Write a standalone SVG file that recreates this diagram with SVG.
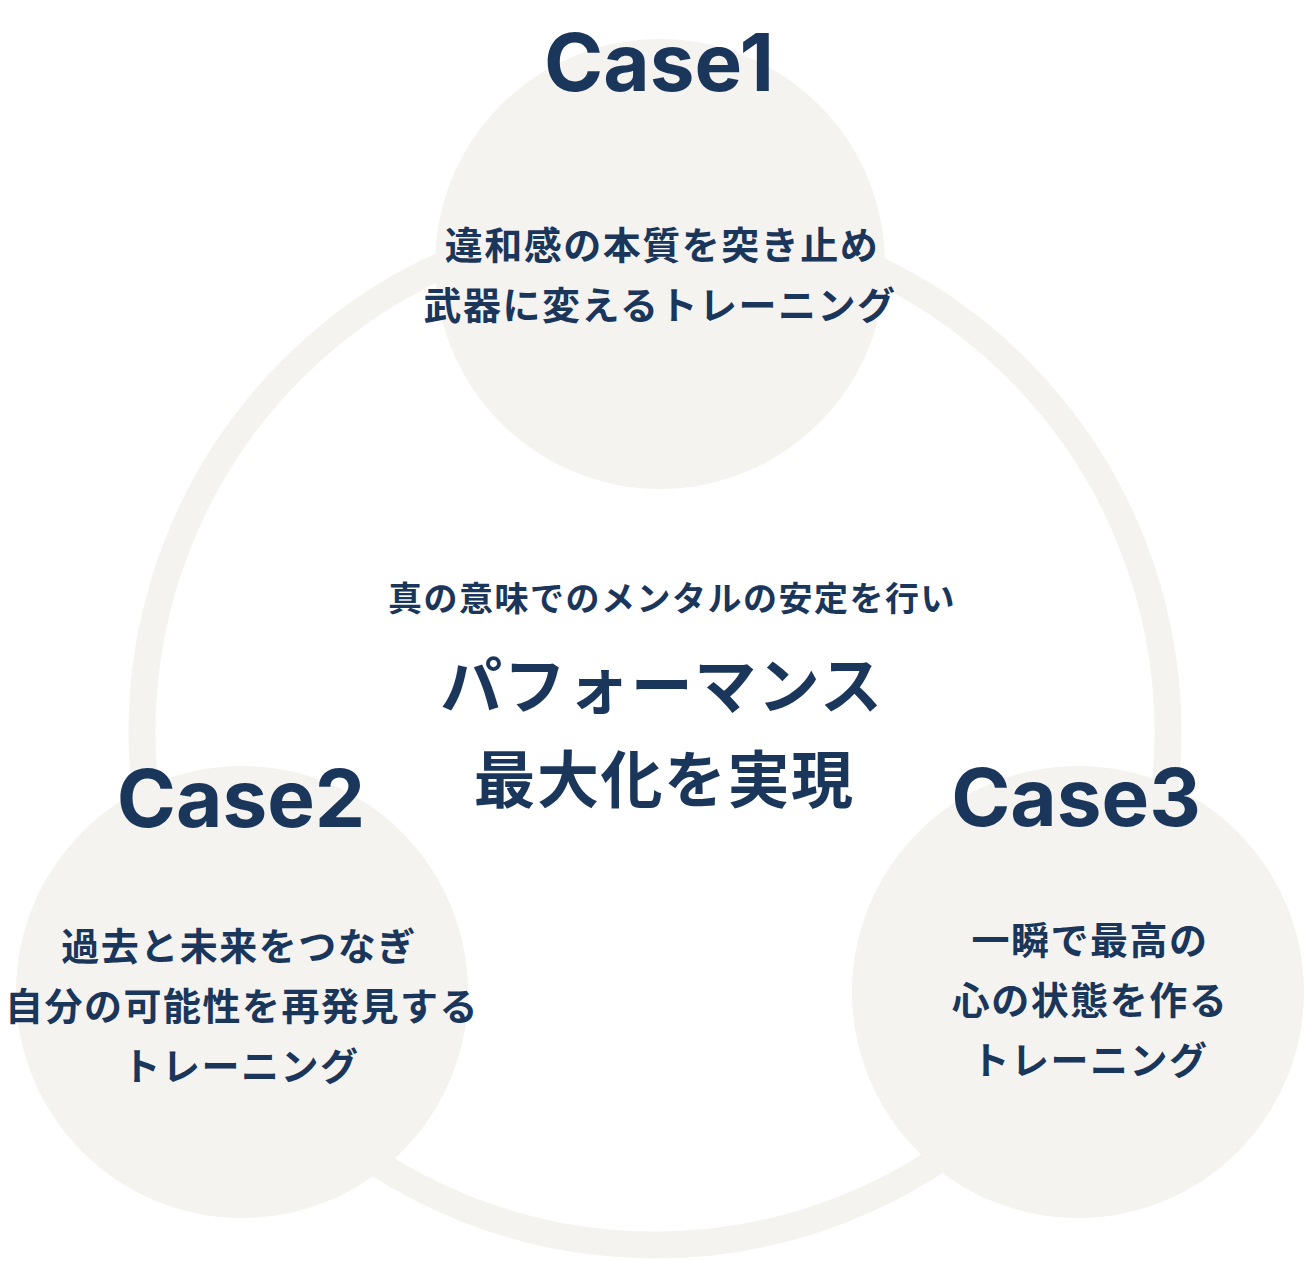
<svg xmlns="http://www.w3.org/2000/svg" width="1304" height="1262" viewBox="0 0 1304 1262">
<style>
.bg{fill:#f4f3f0}
.ring{fill:none;stroke:#f4f3f0;stroke-width:27}
.title{font-family:Inter,"Liberation Sans",sans-serif;font-weight:700;font-size:80px;fill:#1b365b;text-anchor:middle}
.body{font-family:"Noto Sans CJK JP",sans-serif;font-weight:700;font-size:38px;letter-spacing:1.5px;fill:#1b365b;text-anchor:middle}
.lead{font-family:"Noto Sans CJK JP",sans-serif;font-weight:700;font-size:34px;letter-spacing:1.5px;fill:#1b365b;text-anchor:middle}
.main{font-family:"Noto Sans CJK JP",sans-serif;font-weight:700;font-size:62px;letter-spacing:1.5px;fill:#1b365b;text-anchor:middle}
</style>
<rect width="1304" height="1262" fill="#ffffff"/>
<g id="connectors">
<circle class="ring" cx="655" cy="732" r="513"/>
</g>
<g id="case1">
<circle class="bg" cx="660" cy="264" r="225"/>
<text class="title" x="659" y="91">Case1</text>
<text class="body" x="662" y="259">違和感の本質を突き止め</text>
<text class="body" x="660" y="319">武器に変えるトレーニング</text>
</g>
<g id="case2">
<circle class="bg" cx="242" cy="992" r="226"/>
<text class="title" x="241" y="827">Case2</text>
<text class="body" x="239" y="960">過去と未来をつなぎ</text>
<text class="body" x="242" y="1020">自分の可能性を再発見する</text>
<text class="body" x="241" y="1080">トレーニング</text>
</g>
<g id="case3">
<circle class="bg" cx="1078" cy="992" r="226"/>
<text class="title" x="1076" y="826">Case3</text>
<text class="body" x="1090" y="954">一瞬で最高の</text>
<text class="body" x="1090" y="1014">心の状態を作る</text>
<text class="body" x="1090" y="1074">トレーニング</text>
</g>
<g id="center">
<text class="lead" x="672" y="611">真の意味でのメンタルの安定を行い</text>
<text class="main" x="662" y="709">パフォーマンス</text>
<text class="main" x="664" y="803">最大化を実現</text>
</g>
</svg>
